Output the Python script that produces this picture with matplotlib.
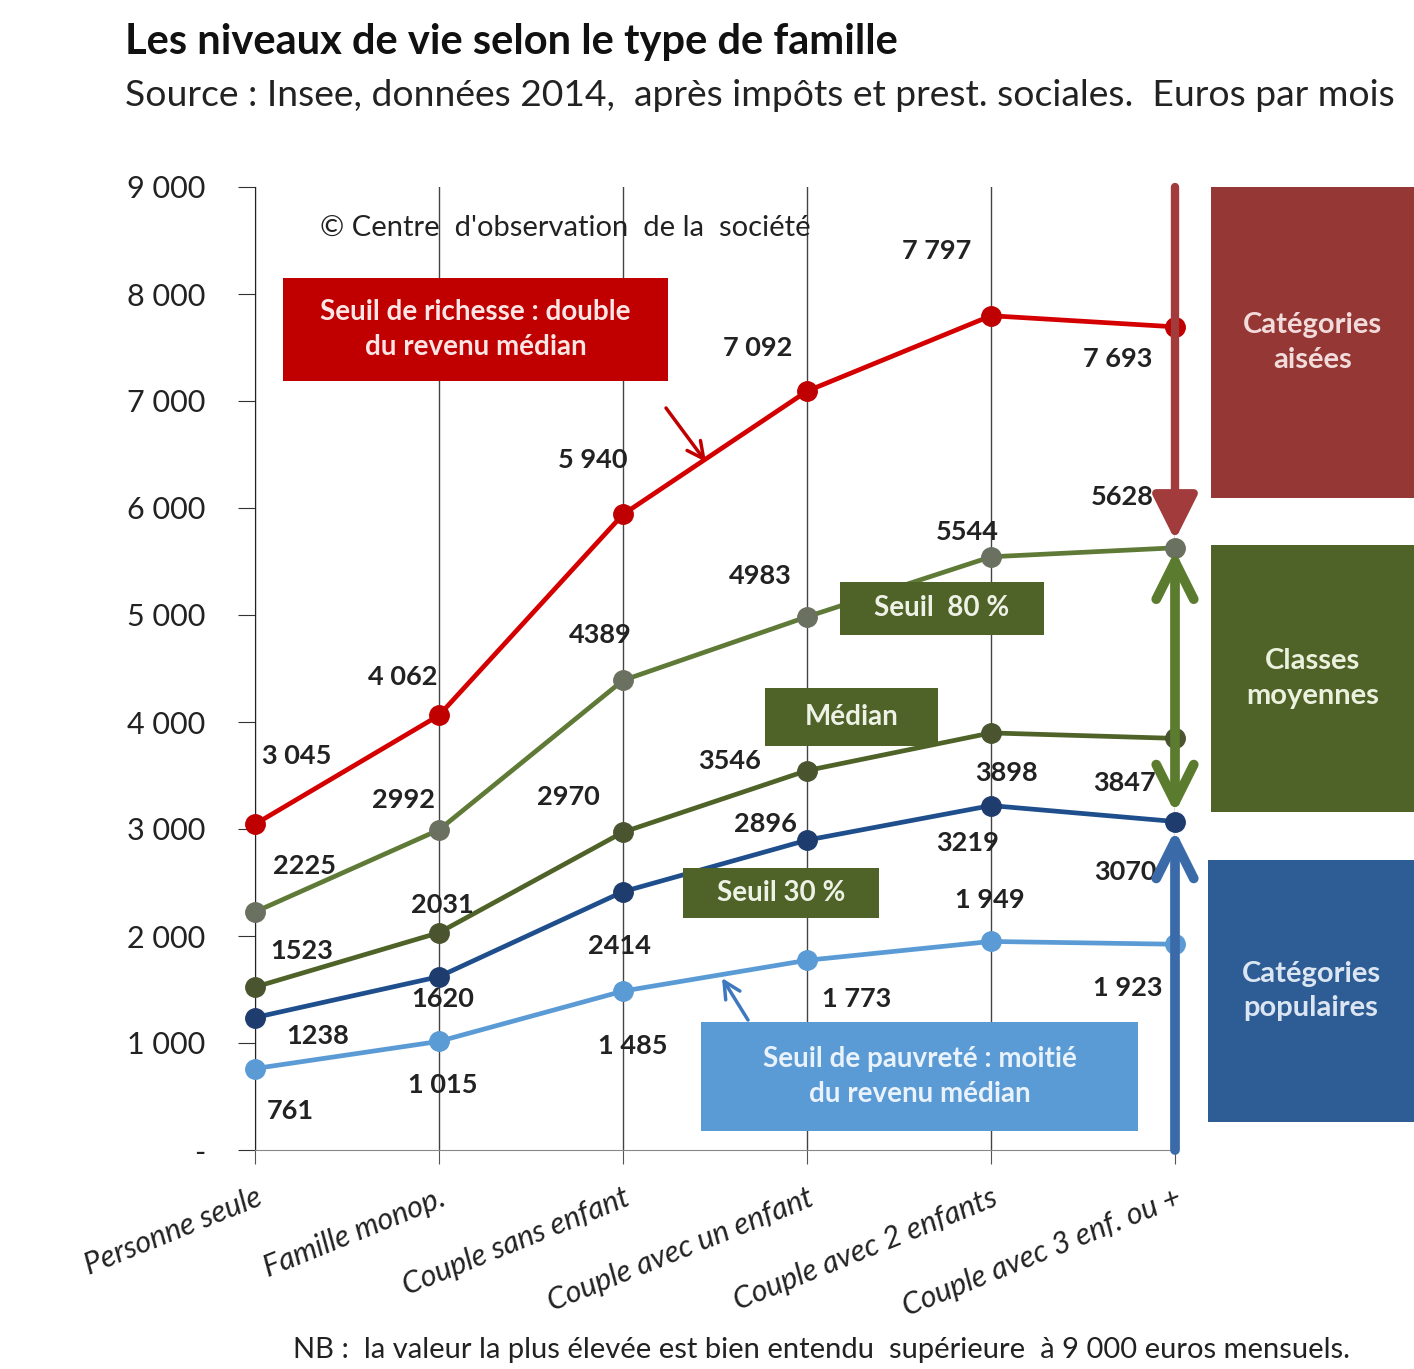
import matplotlib.pyplot as plt
from matplotlib.patches import Rectangle

plt.rcParams['font.family'] = ['Lato', 'DejaVu Sans']

W, H = 1414, 1369

categories = ["Personne seule", "Famille monop.", "Couple sans enfant",
              "Couple avec un enfant", "Couple avec 2 enfants", "Couple avec 3 enf. ou +"]
richesse = [3045, 4062, 5940, 7092, 7797, 7693]
seuil80 = [2225, 2992, 4389, 4983, 5544, 5628]
median = [1523, 2031, 2970, 3546, 3898, 3847]
seuil30 = [1238, 1620, 2414, 2896, 3219, 3070]
pauvrete = [761, 1015, 1485, 1773, 1949, 1923]
y_ticks = [0, 1000, 2000, 3000, 4000, 5000, 6000, 7000, 8000, 9000]
y_ticklabels = ["-"] + ["%d 000" % (v // 1000) for v in y_ticks[1:]]

# label offsets in pixels (dx, dy) relative to each point
off_rich = [(42, 68), (-36, 38), (-30, 54), (-49, 43), (-54, 65), (-57, -32)]
off_80 = [(50, 46), (-36, 30), (-23, 45), (-47, 41), (-24, 25), (-53, 51)]
off_med = [(47, 36), (3, 28), (-55, 35), (-77, 10), (15, -40), (-51, -45)]
off_30 = [(63, -18), (4, -22), (-4, -54), (-42, 16), (-23, -37), (-50, -50)]
off_pauv = [(35, -42), (4, -44), (10, -55), (50, -39), (-1, 41), (-47, -44)]


def fmt_space(v):
    return "{:,}".format(v).replace(",", " ")


series = [
    (richesse, "#D40000", "#C00000", off_rich, True),
    (seuil80, "#5F7A37", "#6B7160", off_80, False),
    (median, "#4F6228", "#4A5530", off_med, False),
    (seuil30, "#1F4E8C", "#1F3C6E", off_30, False),
    (pauvrete, "#5B9BD5", "#5B9BD5", off_pauv, True),
]


def fx(x):
    return x / W


def fy(y):
    return 1 - y / H


fig = plt.figure(figsize=(W / 100, H / 100), dpi=100)
ax = fig.add_axes([fx(255), fy(1150), 920 / W, 963 / H])
x = list(range(len(categories)))

for vals, lc, mc, offs, spaced in series:
    ax.plot(x, vals, color=lc, lw=3.4, marker='o', markersize=14,
            markerfacecolor=mc, markeredgecolor=mc, clip_on=False, zorder=4)
    for xi, v, (dx, dy) in zip(x, vals, offs):
        s = fmt_space(v) if spaced else str(v)
        ax.annotate(s, (xi, v), xytext=(dx, dy), textcoords='offset pixels',
                    ha='center', va='center', fontsize=19.5, fontweight='bold',
                    color='#222222', zorder=5, annotation_clip=False)

ax.set_xlim(0, 5)
ax.set_ylim(0, 9000)
ax.set_yticks(y_ticks)
ax.set_yticklabels(y_ticklabels, fontsize=22, color='#222222')
ax.set_xticks(x)
ax.set_xticklabels(categories, rotation=22, ha='right', va='top',
                   rotation_mode='anchor', fontsize=22, style='italic', color='#222222')
ax.tick_params(axis='y', length=12, pad=24, color='#333333')
ax.tick_params(axis='x', length=10, pad=14, color='#555555')
ax.grid(axis='x', color='#444444', lw=1)
ax.spines['top'].set_visible(False)
ax.spines['right'].set_visible(False)
ax.spines['left'].set_color('#222222')
ax.spines['bottom'].set_color('#888888')
ax.set_axisbelow(True)

# titles
fig.text(fx(125), fy(42), "Les niveaux de vie selon le type de famille",
         fontsize=30, fontweight='bold', va='center', ha='left', color='#111111')
fig.text(fx(125), fy(96), "Source : Insee, données 2014,  après impôts et prest. sociales.  Euros par mois",
         fontsize=26.8, va='center', ha='left', color='#222222')
fig.text(fx(320), fy(228), "© Centre  d'observation  de la  société",
         fontsize=21, va='center', ha='left', color='#222222')
fig.text(fx(293), fy(1350), "NB :  la valeur la plus élevée est bien entendu  supérieure  à 9 000 euros mensuels.",
         fontsize=21, va='center', ha='left', color='#222222')


def box(x0, y0, x1, y1, color, text, fs=20, tc='white'):
    fig.patches.append(Rectangle((fx(x0), fy(y1)), (x1 - x0) / W, (y1 - y0) / H,
                                 transform=fig.transFigure, facecolor=color,
                                 edgecolor='none', zorder=6))
    fig.text(fx((x0 + x1) / 2), fy((y0 + y1) / 2), text, fontsize=fs, color=tc,
             fontweight='bold', ha='center', va='center', linespacing=1.4, zorder=7)


box(283, 278, 668, 381, "#C00000", "Seuil de richesse : double\ndu revenu médian", tc='#FBE5E5')
box(840, 582, 1044, 635, "#4F6228", "Seuil  80 %", tc='#EEF2E6')
box(765, 688, 938, 746, "#4F6228", "Médian", tc='#EEF2E6')
box(683, 868, 879, 918, "#4F6228", "Seuil 30 %", tc='#EEF2E6')
box(701, 1022, 1138, 1131, "#5B9BD5", "Seuil de pauvreté : moitié\ndu revenu médian", tc='#EAF2FB')
box(1211, 187, 1414, 498, "#953735", "Catégories\naisées", fs=21, tc='#F2DCDB')
box(1211, 545, 1414, 812, "#4F6228", "Classes\nmoyennes", fs=21, tc='#EBF1DE')
box(1208, 860, 1414, 1122, "#2E5C94", "Catégories\npopulaires", fs=21, tc='#DCE6F2')

# pointer arrows
ax.annotate("", xy=(fx(706), fy(462)), xytext=(fx(666), fy(408)),
            xycoords='figure fraction', textcoords='figure fraction',
            arrowprops=dict(arrowstyle='->,head_width=0.6,head_length=1.2',
                            color='#C00000', lw=2.5, shrinkA=0, shrinkB=0),
            annotation_clip=False)
ax.annotate("", xy=(fx(722), fy(978)), xytext=(fx(748), fy(1020)),
            xycoords='figure fraction', textcoords='figure fraction',
            arrowprops=dict(arrowstyle='->,head_width=0.6,head_length=1.2',
                            color='#3E78BF', lw=2.5, shrinkA=0, shrinkB=0),
            annotation_clip=False)

# category arrows along the last column
ax.annotate("", xy=(5, 5700), xytext=(5, 9000),
            arrowprops=dict(arrowstyle='-|>,head_width=0.45,head_length=0.9',
                            color='#A23B3B', lw=6, shrinkA=0, shrinkB=0, mutation_scale=30),
            annotation_clip=False, zorder=6)
ax.annotate("", xy=(5, 3150), xytext=(5, 5600),
            arrowprops=dict(arrowstyle='<->,head_width=0.45,head_length=0.9',
                            color='#5B7B2F', lw=7, shrinkA=0, shrinkB=0, mutation_scale=30),
            annotation_clip=False, zorder=6)
ax.annotate("", xy=(5, 2990), xytext=(5, 0),
            arrowprops=dict(arrowstyle='->,head_width=0.45,head_length=0.9',
                            color='#3A6BA8', lw=7, shrinkA=0, shrinkB=0, mutation_scale=30),
            annotation_clip=False, zorder=6)

fig.savefig("out.png", dpi=100)
